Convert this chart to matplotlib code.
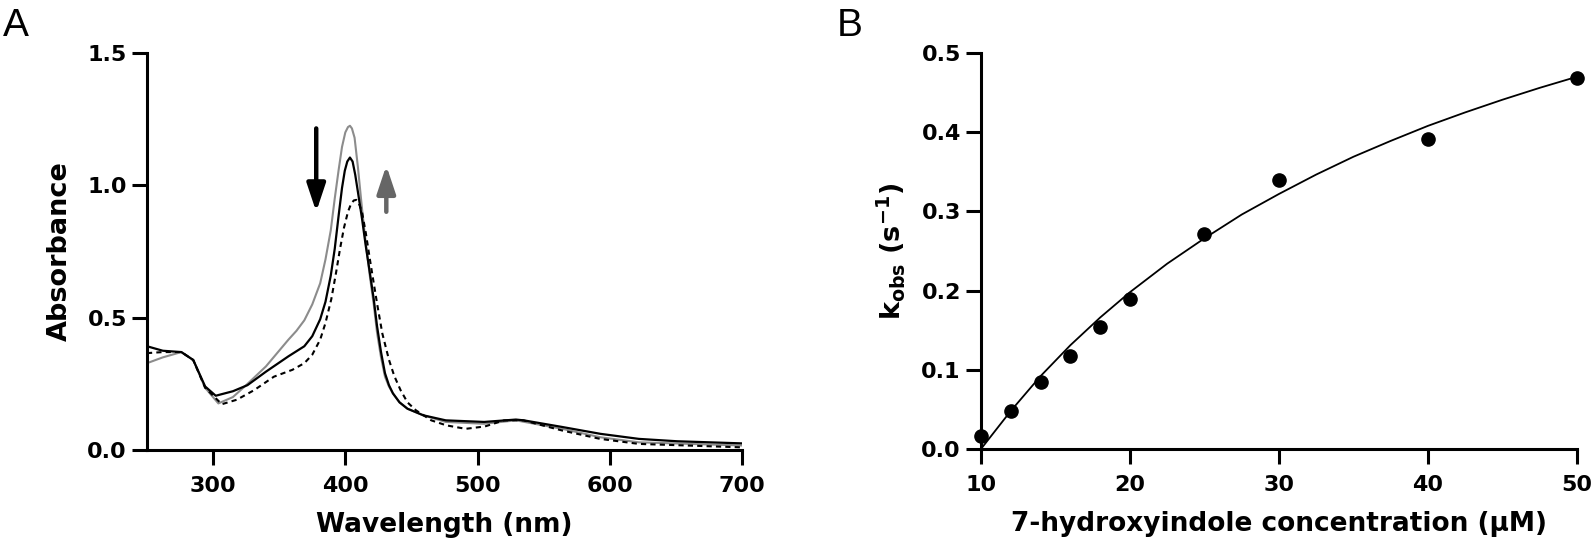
import matplotlib

matplotlib.use("Agg")
import matplotlib.pyplot as plt

plt.rcParams["font.family"] = ["DejaVu Sans"]
plt.rcParams["font.weight"] = "bold"
plt.rcParams["axes.labelweight"] = "bold"
plt.rcParams["mathtext.fontset"] = "custom"
plt.rcParams["mathtext.rm"] = "DejaVu Sans:bold"
plt.rcParams["mathtext.it"] = "DejaVu Sans:bold"
plt.rcParams["mathtext.bf"] = "DejaVu Sans:bold"

# panel A: spectra
black_nm = [250, 262, 276, 285, 294, 302, 315, 326, 340, 357, 369, 375, 381, 385, 389, 392,
            395, 397.5, 399.6, 401.5, 403.5, 405.5, 407.5, 410, 412.6, 415.5, 418.5, 421.5,
            424, 427, 430, 433, 436, 441, 447, 459, 476, 505, 529, 535, 564, 593, 622, 651, 700]
black_abs = [0.392, 0.375, 0.37, 0.34, 0.24, 0.205, 0.222, 0.245, 0.296, 0.354, 0.392, 0.43,
             0.494, 0.56, 0.659, 0.76, 0.888, 0.99, 1.055, 1.09, 1.105, 1.09, 1.04, 0.96,
             0.875, 0.77, 0.672, 0.57, 0.468, 0.37, 0.29, 0.245, 0.214, 0.18, 0.156, 0.131,
             0.112, 0.106, 0.115, 0.112, 0.087, 0.061, 0.042, 0.033, 0.025]

gray_nm = [250, 262, 276, 285, 294, 304, 315, 325, 340, 357, 363, 369, 375, 381, 385, 389,
           392, 395, 397.5, 400, 402, 403.5, 405, 407, 409.5, 412.6, 415.5, 418.5, 421.5,
           424, 427, 430, 433, 436, 441, 447, 459, 476, 505, 529, 564, 593, 622, 700]
gray_abs = [0.328, 0.35, 0.37, 0.34, 0.235, 0.176, 0.2, 0.245, 0.316, 0.417, 0.45, 0.49,
            0.55, 0.63, 0.72, 0.83, 0.95, 1.06, 1.145, 1.2, 1.22, 1.225, 1.215, 1.18, 1.07,
            0.913, 0.78, 0.659, 0.55, 0.443, 0.35, 0.277, 0.24, 0.214, 0.18, 0.156, 0.131,
            0.106, 0.099, 0.112, 0.08, 0.048, 0.029, 0.017]

dash_nm = [250, 262, 276, 285, 294, 306.6, 318, 331, 346, 360, 369, 375, 381, 385, 389.4,
           393, 396, 399, 402, 404.5, 406.5, 408.3, 410, 412.6, 415.5, 418.5, 421.5, 424.3,
           428, 433, 437, 441.8, 447, 453.4, 465, 476.5, 491, 505.6, 520, 534.6, 563.7,
           592.7, 622, 700]
dash_abs = [0.366, 0.37, 0.37, 0.34, 0.235, 0.173, 0.19, 0.226, 0.277, 0.303, 0.328, 0.36,
            0.417, 0.48, 0.57, 0.67, 0.76, 0.84, 0.9, 0.932, 0.943, 0.945, 0.935, 0.9, 0.82,
            0.723, 0.63, 0.545, 0.44, 0.341, 0.28, 0.226, 0.18, 0.15, 0.112, 0.093, 0.08,
            0.089, 0.112, 0.112, 0.074, 0.042, 0.023, 0.01]

# panel B: kobs vs concentration and the fitted curve
conc = [10, 12, 14, 16, 18, 20, 25, 30, 40, 50]
kobs = [0.016, 0.048, 0.085, 0.117, 0.154, 0.19, 0.272, 0.34, 0.392, 0.468]
fit_conc = [10, 12, 14, 16, 18, 20, 22.5, 25, 27.5, 30, 32.5, 35, 37.5, 40, 42.5, 45, 47.5, 50]
fit_kobs = [0.0, 0.048, 0.092, 0.131, 0.166, 0.198, 0.234, 0.266, 0.296, 0.322, 0.3465,
            0.369, 0.389, 0.408, 0.425, 0.441, 0.456, 0.47]


def _style_axis(axis):
    for side in ("top", "right"):
        axis.spines[side].set_visible(False)
    for side in ("left", "bottom"):
        axis.spines[side].set_linewidth(2.2)
    axis.tick_params(width=2.2, length=10.5, labelsize=16)
    axis.tick_params(axis="x", pad=8)
    axis.tick_params(axis="y", pad=4)


figure = plt.figure(figsize=(15.94, 5.59), dpi=100)

axis_a = figure.add_axes([0.0922, 0.195, 0.3733, 0.7102])
axis_a.plot(gray_nm, gray_abs, color="#8c8c8c", lw=1.5)
axis_a.plot(black_nm, black_abs, color="black", lw=1.6)
axis_a.plot(dash_nm, dash_abs, color="black", lw=1.5, ls=(0, (2.5, 2)))
axis_a.annotate("", xy=(378, 0.90), xytext=(378, 1.215),
                arrowprops=dict(arrowstyle="-|>,head_width=0.4,head_length=1.2", lw=3.2,
                                color="black", shrinkA=0, shrinkB=0, mutation_scale=14))
axis_a.annotate("", xy=(431, 1.075), xytext=(431, 0.90),
                arrowprops=dict(arrowstyle="-|>,head_width=0.4,head_length=1.2", lw=3.2,
                                color="#666666", shrinkA=0, shrinkB=0, mutation_scale=14))
axis_a.set_xlim(250, 700)
axis_a.set_ylim(0, 1.5)
axis_a.set_xticks([300, 400, 500, 600, 700])
axis_a.set_yticks([0.0, 0.5, 1.0, 1.5])
axis_a.set_yticklabels(["0.0", "0.5", "1.0", "1.5"])
axis_a.set_xlabel("Wavelength (nm)", fontsize=19, labelpad=12)
axis_a.set_ylabel("Absorbance", fontsize=19.5, labelpad=10)
_style_axis(axis_a)

axis_b = figure.add_axes([0.6154, 0.1968, 0.3739, 0.7084])
axis_b.plot(fit_conc, fit_kobs, color="black", lw=1.3)
axis_b.plot(conc, kobs, "o", color="black", ms=9.5, clip_on=False)
axis_b.set_xlim(10, 50)
axis_b.set_ylim(0, 0.5)
axis_b.set_xticks([10, 20, 30, 40, 50])
axis_b.set_yticks([0.0, 0.1, 0.2, 0.3, 0.4, 0.5])
axis_b.set_yticklabels(["0.0", "0.1", "0.2", "0.3", "0.4", "0.5"])
axis_b.set_xlabel("7-hydroxyindole concentration (μM)", fontsize=19, labelpad=12)
axis_b.set_ylabel(r"k$_{\mathrm{obs}}$ (s$^{\mathrm{-1}}$)", fontsize=19.5, labelpad=10)
_style_axis(axis_b)

figure.text(0.002, 0.985, "A", fontsize=28, fontweight="normal", family="Liberation Sans",
            va="top", ha="left")
figure.text(0.525, 0.985, "B", fontsize=28, fontweight="normal", family="Liberation Sans",
            va="top", ha="left")

figure.savefig("out.png", dpi=100)
plt.close(figure)
